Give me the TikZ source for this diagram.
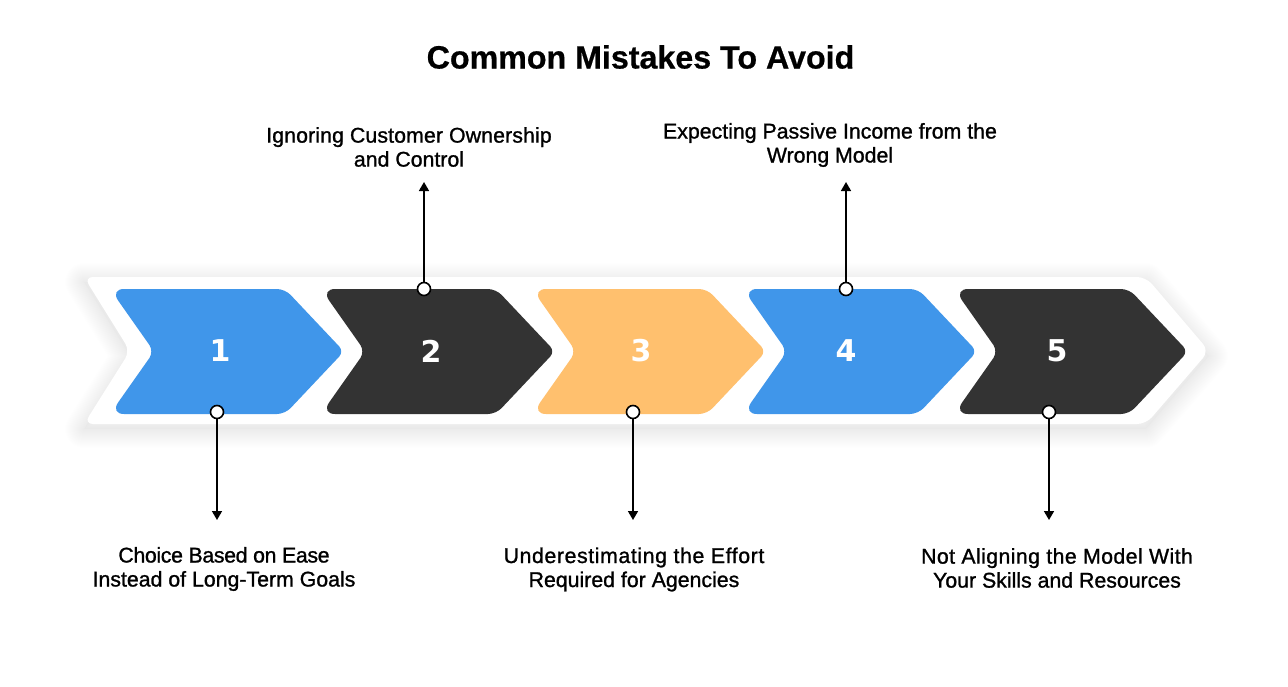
\documentclass[tikz,border=0pt]{standalone}
\usepackage{fontspec}
\setmainfont{Liberation Sans}
\newfontfamily\labelfont[FakeBold=1.1]{Liberation Sans}
\newfontfamily\titlefont[FakeBold=0.6]{Liberation Sans Bold}
\newfontfamily\numfont{DejaVu Sans Bold}
\usetikzlibrary{arrows.meta}
\definecolor{cblue}{HTML}{4096EA}
\definecolor{cdark}{HTML}{333333}
\definecolor{corange}{HTML}{FFC06E}
\tikzset{
  num/.style={text=white,font=\numfont\fontsize{30}{30}\selectfont,inner sep=0pt},
  lab/.style={font=\labelfont\fontsize{21.3}{24}\selectfont,align=center,inner sep=0pt,text=black},
  dot/.style={circle,draw=black,line width=1.6pt,fill=white,minimum size=13pt,inner sep=0pt},
  conn/.style={draw=black,line width=1.6pt,-{Triangle[length=9pt,width=10pt]}},
}
\newcommand{\spaced}[2]{{\addfontfeature{LetterSpace=#1}#2}}
\newcommand{\bandpath}[1]{(84,277+#1) -- (1146,277+#1) -- (1209,351+#1) -- (1146,424+#1) -- (84,424+#1) -- (130,351+#1) -- cycle}
\newcommand{\chevron}[2]{\fill[#2] [rounded corners=14pt] (#1-5,289) [rounded corners=8pt] -- (#1+170,289) [rounded corners=7pt] -- (#1+229,351.5) [rounded corners=8pt] -- (#1+170,414) [rounded corners=14pt] -- (#1-5,414) [rounded corners=8pt] -- (#1+39,351.5) [rounded corners=14pt] -- cycle;}
\begin{document}
\begin{tikzpicture}[x=1pt,y=-1pt]
\useasboundingbox (0,0) rectangle (1288,686);
\fill[white] (0,0) rectangle (1288,686);
% soft shadow
\foreach \w in {38,36,...,2}{
  \draw[black,opacity=0.003,line width=\w pt,line join=round] \bandpath{5};
}
\fill[black,opacity=0.012] \bandpath{5};
% band
\fill[white,rounded corners=9pt] \bandpath{0};
% chevrons
\chevron{115}{cblue}
\chevron{326}{cdark}
\chevron{537}{corange}
\chevron{748}{cblue}
\chevron{959}{cdark}
% numbers
\node[num] (n1) at (220,351) {1};
\node[num] (n2) at (431,351) {2};
\node[num] (n3) at (641,351) {3};
\node[num] (n4) at (846,351) {4};
\node[num] (n5) at (1057,351) {5};
% title
\node[font=\titlefont\fontsize{32.2}{32}\selectfont,inner sep=0pt] (title) at (640.5,57) {Common Mistakes To Avoid};
% labels
\node[lab] (l1) at (224,569) {\spaced{-1.6}{Choice Based on Ease}\\Instead of Long-Term Goals};
\node[lab] (l2) at (409,147) {\spaced{0.5}{Ignoring Customer Ownership}\\and Control};
\node[lab] (l3) at (634,569.5) {\spaced{2.8}{Underestimating the Effort}\\Required for Agencies};
\node[lab] (l4) at (830,145) {Expecting Passive Income from the\\Wrong Model};
\node[lab] (l5) at (1057,568) {\spaced{1.9}{Not Aligning the Model With}\\Your Skills and Resources};
% connector ends
\coordinate (e1) at (217,520);
\coordinate (e2) at (424,182);
\coordinate (e3) at (633,520);
\coordinate (e4) at (846,182);
\coordinate (e5) at (1049,520);
% dots
\node[dot] (d1) at (217,412) {};
\node[dot] (d2) at (424,289) {};
\node[dot] (d3) at (633,412) {};
\node[dot] (d4) at (846,289) {};
\node[dot] (d5) at (1049,412) {};
\draw[conn] (d1) -- (e1);
\draw[conn] (d2) -- (e2);
\draw[conn] (d3) -- (e3);
\draw[conn] (d4) -- (e4);
\draw[conn] (d5) -- (e5);
\end{tikzpicture}
\end{document}
